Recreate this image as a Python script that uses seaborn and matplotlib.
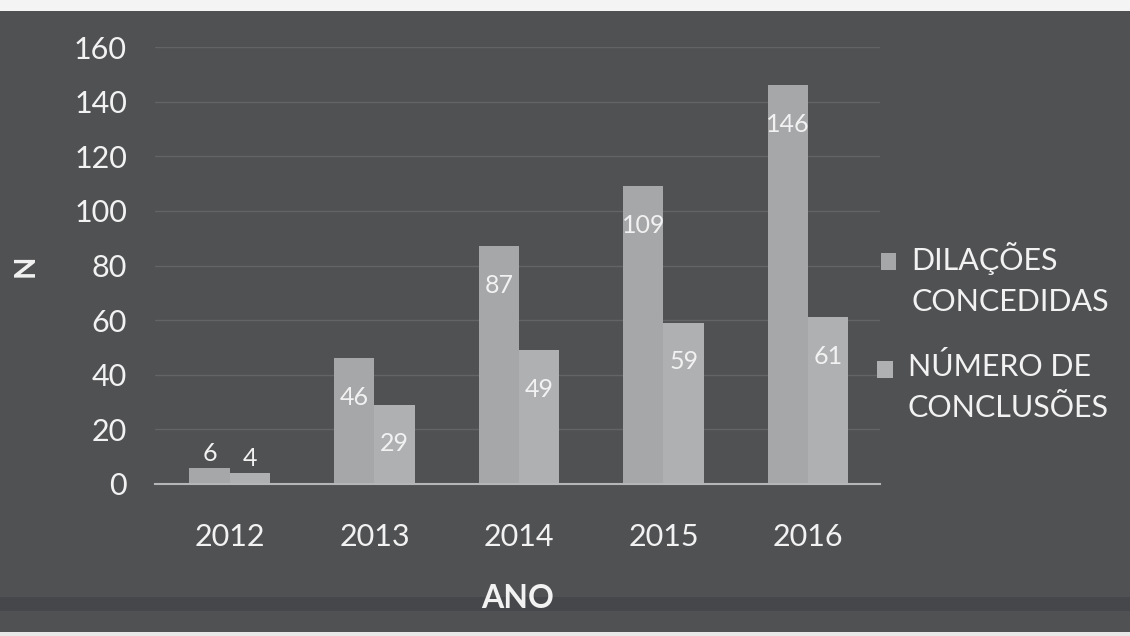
import pandas as pd
import matplotlib.pyplot as plt
import seaborn as sns
from matplotlib.patches import Rectangle

# data
anos = ['2012', '2013', '2014', '2015', '2016']
dilacoes = [6, 46, 87, 109, 146]
conclusoes = [4, 29, 49, 59, 61]
series = ['DILAÇÕES\nCONCEDIDAS', 'NÚMERO DE\nCONCLUSÕES']

df = pd.DataFrame({'ANO': anos * 2,
                   'N': dilacoes + conclusoes,
                   'serie': [series[0]] * len(anos) + [series[1]] * len(anos)})

bg = '#505153'
txt = '#f2f2f2'

sns.set_style('dark')
plt.rcParams['font.family'] = ['Lato', 'DejaVu Sans']

fig = plt.figure(figsize=(11.3, 6.36), dpi=100, facecolor=bg)
# white page strip at the top and bottom of the scan
fig.patches.append(Rectangle((0, 0.982), 1, 0.018, transform=fig.transFigure,
                             facecolor='#f4f4f4', edgecolor='none', zorder=-1))
fig.patches.append(Rectangle((0, 0.0), 1, 0.007, transform=fig.transFigure,
                             facecolor='#e8e8e8', edgecolor='none', zorder=-1))
# darker band near the bottom
fig.patches.append(Rectangle((0, 0.04), 1, 0.022, transform=fig.transFigure,
                             facecolor='#46474a', edgecolor='none', zorder=-1))

ax = fig.add_axes([0.137, 0.239, 0.642, 0.687])
ax.set_facecolor(bg)

sns.barplot(data=df, x='ANO', y='N', hue='serie', width=0.56,
            palette=['#a6a7a9', '#afb0b2'], saturation=1, edgecolor='none',
            linewidth=0, ax=ax)

ax.set_ylim(0, 160)
ax.set_xlim(-0.52, 4.5)
ax.set_yticks(range(0, 161, 20))
ax.yaxis.grid(True, color='#636467', linewidth=1)
ax.xaxis.grid(False)
ax.set_axisbelow(True)
for s in ['top', 'right', 'left']:
    ax.spines[s].set_visible(False)
ax.spines['bottom'].set_color('#b5b6b8')
ax.spines['bottom'].set_linewidth(1.5)
ax.tick_params(axis='both', colors=txt, labelsize=22, length=0)
ax.tick_params(axis='y', pad=20)
ax.tick_params(axis='x', pad=28)

ax.set_xlabel('ANO', color=txt, fontsize=23, fontweight='bold', labelpad=24)
ax.set_ylabel('N', color=txt, fontsize=21, fontweight='bold')
ax.yaxis.set_label_coords(-0.16, 0.5)

# data labels: inside the top of the bar, above it for the small ones
for cont in ax.containers:
    for bar in cont:
        h = bar.get_height()
        x = bar.get_x() + bar.get_width() / 2
        if h < 20:
            ax.annotate(f'{h:.0f}', (x, h), xytext=(0, 2), textcoords='offset points',
                        ha='center', va='bottom', color=txt, fontsize=18)
        else:
            ax.annotate(f'{h:.0f}', (x, h), xytext=(0, -28), textcoords='offset points',
                        ha='center', va='center', color=txt, fontsize=18)

leg = ax.legend(loc='center left', bbox_to_anchor=(0.752, 0.478), bbox_transform=fig.transFigure,
                frameon=False, fontsize=22, handlelength=0.5, handleheight=0.5,
                handletextpad=0.5, labelspacing=1.15)
for t in leg.get_texts():
    t.set_color(txt)
    t.set_linespacing(1.6)
# put each square next to the first line of its label
for row in leg._legend_handle_box.get_children():
    row.align = 'top'
for hd in leg.legend_handles:
    hd.set_y(hd.get_y() + 13)

fig.savefig('out.png', dpi=100, facecolor=fig.get_facecolor())
